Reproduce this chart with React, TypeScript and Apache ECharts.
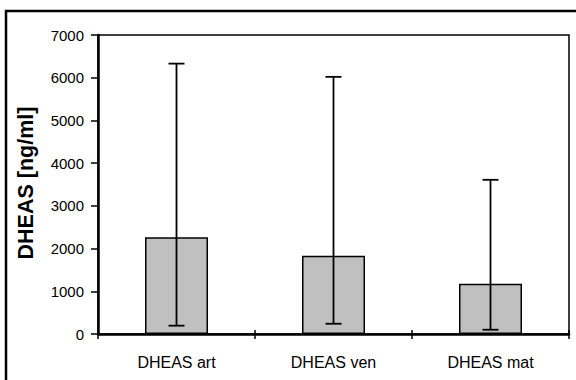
import React, { useEffect, useRef } from "react";
import * as echarts from "echarts";

const categories = ["DHEAS art", "DHEAS ven", "DHEAS mat"];
const means = [2265, 1833, 1178];
const lowerErr = [195, 240, 100];
const upperErr = [6330, 6020, 3610];
const yTicks = { min: 0, max: 7000, interval: 1000 };
const yTitle = "DHEAS [ng/ml]";

const FONT = '"Liberation Sans", Arial, sans-serif';

export default function App() {
  const ref = useRef<HTMLDivElement>(null);
  useEffect(() => {
    if (!ref.current) return;
    const chart = echarts.init(ref.current, null, { renderer: "svg" });
    const errData = categories.map((_, i) => [i, lowerErr[i], upperErr[i]]);
    chart.setOption({
      animation: false,
      backgroundColor: "#fff",
      textStyle: { fontFamily: FONT },
      grid: {
        left: 98,
        top: 35,
        right: 7,
        bottom: 46,
        show: true,
        borderColor: "#000",
        borderWidth: 1.5,
        backgroundColor: "transparent",
      },
      xAxis: [
        {
          type: "category",
          data: categories,
          boundaryGap: true,
          axisLine: { lineStyle: { color: "#000", width: 2.5 } },
          axisTick: { show: true, inside: false, length: 5, lineStyle: { color: "#000", width: 1.5 } },
          axisLabel: { color: "#000", fontSize: 16, margin: 20, fontFamily: FONT },
          splitLine: { show: false },
        },
        {
          type: "category",
          data: categories,
          boundaryGap: true,
          position: "bottom",
          axisLine: { show: false },
          axisTick: { show: true, inside: true, length: 4, lineStyle: { color: "#000", width: 1.5 } },
          axisLabel: { show: false },
          splitLine: { show: false },
        },
      ],
      yAxis: {
        type: "value",
        min: yTicks.min,
        max: yTicks.max,
        interval: yTicks.interval,
        axisLine: { show: true, lineStyle: { color: "#000", width: 2.5 } },
        axisTick: { show: true, inside: false, length: 7, lineStyle: { color: "#000", width: 1.5 } },
        axisLabel: {
          color: "#000",
          fontSize: 15,
          margin: 14,
          fontFamily: FONT,
          formatter: (v: number) => String(v),
        },
        splitLine: { show: false },
      },
      graphic: [
        {
          type: "rect",
          shape: { x: 6, y: 11, width: 700, height: 500 },
          style: { fill: "none", stroke: "#000", lineWidth: 2.5 },
          silent: true,
        },
        {
          type: "text",
          x: 26,
          y: 183,
          rotation: Math.PI / 2,
          style: {
            text: yTitle,
            fontSize: 21.5,
            fontWeight: "bold",
            fontFamily: FONT,
            fill: "#000",
            textAlign: "center",
            textVerticalAlign: "middle",
          },
        },
      ],
      series: [
        {
          type: "bar",
          data: means,
          barWidth: 63,
          itemStyle: { color: "#c0c0c0", borderColor: "#000", borderWidth: 1.5 },
          z: 2,
        },
        {
          type: "custom",
          data: errData,
          encode: { x: 0, y: [1, 2] },
          z: 5,
          renderItem: (params: any, api: any) => {
            const idx = api.value(0);
            const lo = api.coord([idx, api.value(1)]);
            const hi = api.coord([idx, api.value(2)]);
            const hw = 8;
            const st = { stroke: "#000", lineWidth: 1.8 };
            return {
              type: "group",
              children: [
                { type: "line", shape: { x1: hi[0], y1: hi[1], x2: lo[0], y2: lo[1] }, style: st },
                { type: "line", shape: { x1: hi[0] - hw, y1: hi[1], x2: hi[0] + hw, y2: hi[1] }, style: st },
                { type: "line", shape: { x1: lo[0] - hw, y1: lo[1], x2: lo[0] + hw, y2: lo[1] }, style: st },
              ],
            };
          },
        },
      ],
    });
    return () => chart.dispose();
  }, []);
  return (
    <div
      ref={ref}
      style={{ position: "fixed", left: 0, top: 0, width: 576, height: 380, background: "#fff" }}
    />
  );
}
